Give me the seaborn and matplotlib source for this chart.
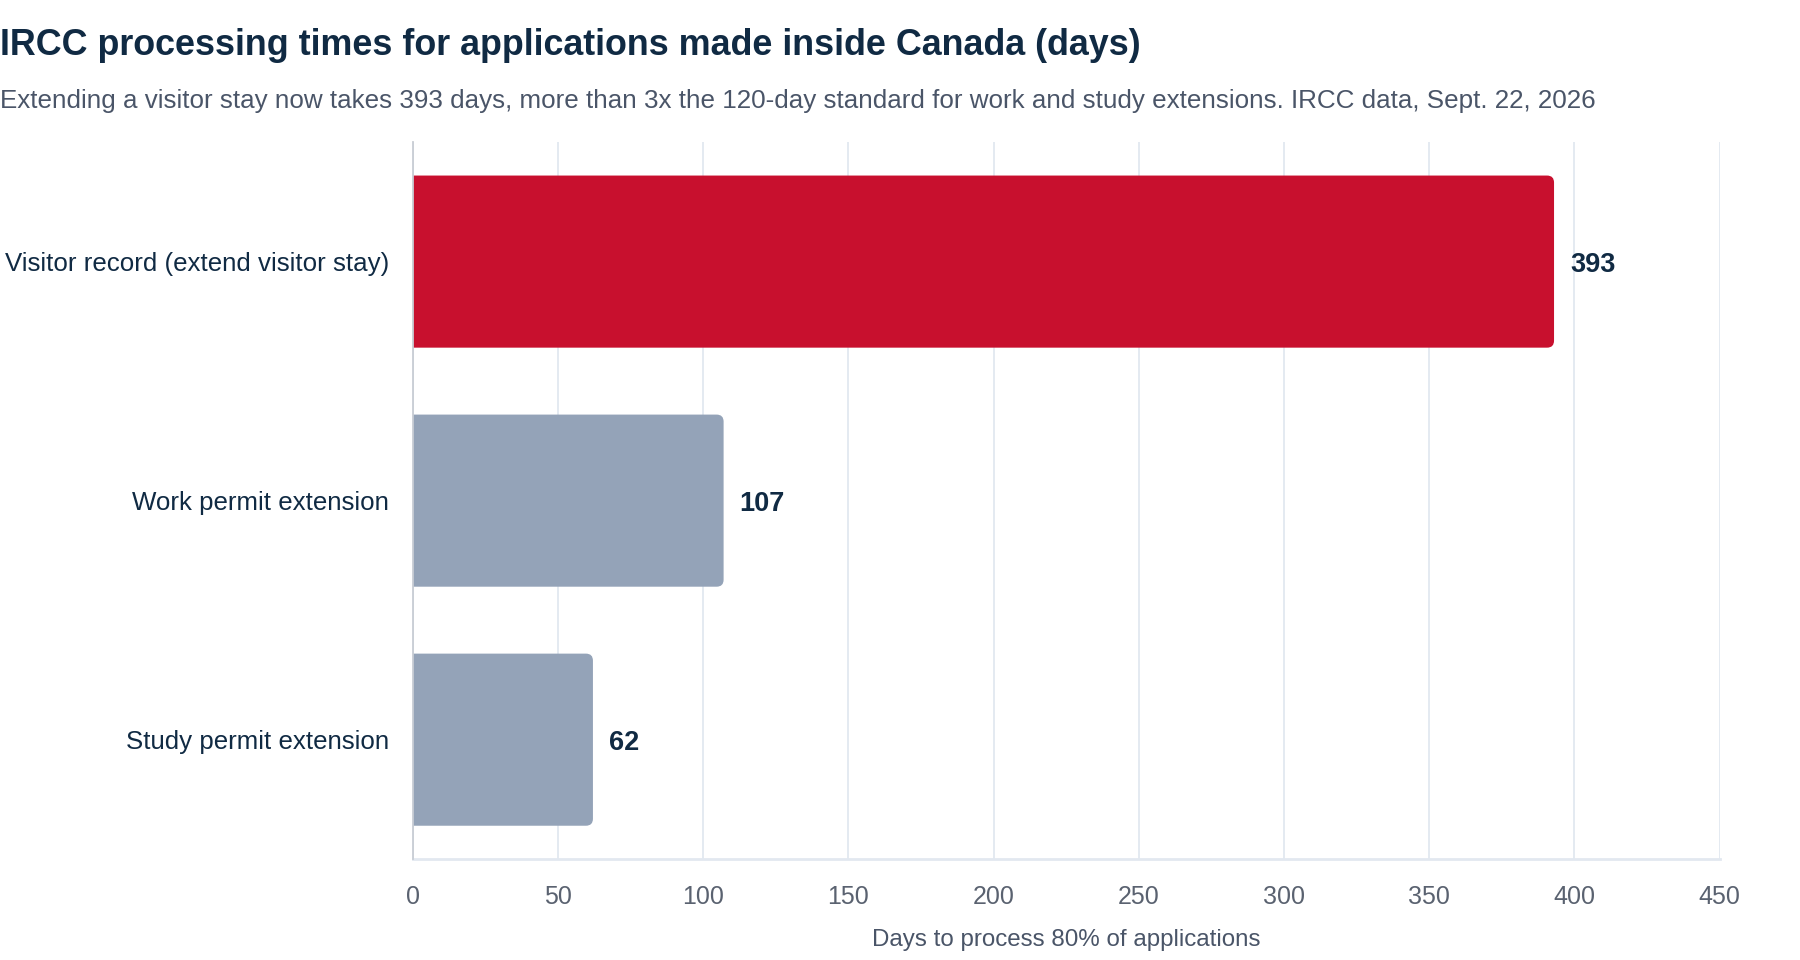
import matplotlib
matplotlib.use("Agg")
import matplotlib.pyplot as plt
from matplotlib.patches import FancyBboxPatch
import seaborn as sns
import pandas as pd

# data
categories = ["Visitor record (extend visitor stay)", "Work permit extension", "Study permit extension"]
days = [393, 107, 62]
bar_colors = ["#C8102E", "#94A3B8", "#94A3B8"]
x_ticks = [0, 50, 100, 150, 200, 250, 300, 350, 400, 450]

title = "IRCC processing times for applications made inside Canada (days)"
subtitle = ("Extending a visitor stay now takes 393 days, more than 3x the 120-day standard "
            "for work and study extensions. IRCC data, Sept. 22, 2026")
xlabel = "Days to process 80% of applications"

NAVY = "#102A43"
GREY_TXT = "#4A5568"
GRID = "#E2E8F0"

sns.set_theme(style="white")
plt.rcParams["font.family"] = ["Liberation Sans", "DejaVu Sans"]

df = pd.DataFrame({"category": categories, "days": days})

fig = plt.figure(figsize=(18, 9.6), dpi=100)
ax = fig.add_axes([0.2294, 0.105, 0.7259, 0.747])

sns.barplot(data=df, x="days", y="category", hue="category", palette=bar_colors,
            dodge=False, legend=False, width=0.72, saturation=1, ax=ax, zorder=3)

ax.set_xlim(0, 450)
ax.set_ylim(2.5, -0.5)

# rounded right corners: swap bars for rounded boxes, left side hidden by clipping
fig.canvas.draw()
px_per_x = ax.bbox.width / 450
px_per_y = ax.bbox.height / 3.0
r_px = 7
r_x = r_px / px_per_x
for p in list(ax.patches):
    x0, y0, w, h = p.get_x(), p.get_y(), p.get_width(), p.get_height()
    fc = p.get_facecolor()
    p.remove()
    rb = FancyBboxPatch((x0 - 3 * r_x, y0), w + 3 * r_x, h,
                        boxstyle=f"round,pad=0,rounding_size={r_x}",
                        mutation_aspect=px_per_x / px_per_y,
                        facecolor=fc, edgecolor="none", zorder=3, clip_on=True)
    ax.add_patch(rb)
    ax.text(w + 16 / px_per_x, y0 + h / 2, f"{w:.0f}", va="center_baseline", ha="left",
            fontsize=19.5, fontweight="bold", color=NAVY, zorder=4)

ax.set_xticks(x_ticks)
ax.set_xticklabels([str(t) for t in x_ticks], fontsize=18, color="#5A6270")
ax.tick_params(axis="x", length=9, width=1.3, color=GRID, pad=9.5)
ax.tick_params(axis="y", length=0, pad=17, labelsize=18.6, labelcolor=NAVY)
ax.grid(axis="x", color=GRID, linewidth=1.3, zorder=0)
ax.set_axisbelow(True)

ax.set_xlabel(xlabel, fontsize=17.4, color=GREY_TXT, labelpad=14.5)
ax.set_ylabel("")

for s in ["top", "right"]:
    ax.spines[s].set_visible(False)
ax.spines["left"].set_color("#C8CDD4")
ax.spines["left"].set_linewidth(1.3)
ax.spines["left"].set_zorder(5)
ax.spines["bottom"].set_color(GRID)
ax.spines["bottom"].set_linewidth(2)

fig.text(0.0, 0.9525, title, fontsize=25.8, fontweight="bold", color=NAVY, va="center", ha="left")
fig.text(0.0, 0.8945, subtitle, fontsize=18.7, color=GREY_TXT, va="center", ha="left")

fig.savefig("out.png", dpi=100, facecolor="white")
